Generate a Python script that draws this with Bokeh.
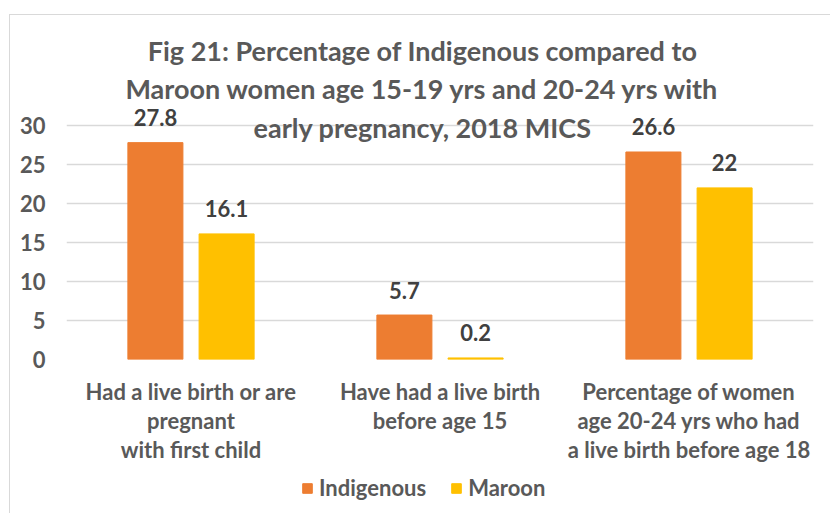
from bokeh.plotting import figure
from bokeh.layouts import column
from bokeh.models import (ColumnDataSource, FactorRange, Range1d, FixedTicker,
                          LabelSet, Label, Legend, LegendItem)
from bokeh.core.properties import value
from bokeh.transform import dodge
from bokeh.embed import file_html
from bokeh.resources import INLINE

categories = [
    "Had a live birth or are\npregnant\nwith first child",
    "Have had a live birth\nbefore age 15",
    "Percentage of women\nage 20-24 yrs who had\na live birth before age 18",
]
indigenous = [27.8, 5.7, 26.6]
maroon = [16.1, 0.2, 22]
y_ticks = [0, 5, 10, 15, 20, 25, 30]
title_lines = [
    "Fig 21: Percentage of Indigenous compared to",
    "Maroon women age 15-19 yrs and 20-24 yrs with",
    "early pregnancy, 2018 MICS",
]
series_names = ["Indigenous", "Maroon"]

FONT = "Lato"
TXT = "#595959"
ORANGE = "#ED7D31"
GOLD = "#FFC000"

src = ColumnDataSource(dict(
    cat=categories,
    ind=indigenous,
    mar=maroon,
    ind_lbl=[f"{v:g}" for v in indigenous],
    mar_lbl=[f"{v:g}" for v in maroon],
))

p = figure(x_range=FactorRange(*categories), y_range=Range1d(0, 43.2),
           width=820, height=455, output_backend="svg", toolbar_location=None,
           min_border_left=56, min_border_right=17, min_border_top=7,
           min_border_bottom=111)
p.outline_line_color = None
p.background_fill_color = "white"
p.border_fill_color = "white"

r1 = p.vbar(x=dodge("cat", -0.143, range=p.x_range), top="ind", width=0.221,
            source=src, color=ORANGE)
r2 = p.vbar(x=dodge("cat", 0.143, range=p.x_range), top="mar", width=0.221,
            source=src, color=GOLD)

for fld, off in (("ind", -0.143), ("mar", 0.143)):
    p.add_layout(LabelSet(x=dodge("cat", off, range=p.x_range), y=fld,
                          text=fld + "_lbl", source=src, text_align="center",
                          text_baseline="middle", y_offset=25,
                          text_font=value(FONT), text_font_style="bold",
                          text_font_size="22px", text_color="#404040"))

# axes
p.yaxis.ticker = FixedTicker(ticks=y_ticks)
p.yaxis.axis_line_color = None
p.yaxis.major_tick_line_color = None
p.yaxis.minor_tick_line_color = None
p.yaxis.major_tick_out = 0
p.yaxis.major_label_standoff = 21
p.yaxis.major_label_text_font = FONT
p.yaxis.major_label_text_font_style = "bold"
p.yaxis.major_label_text_font_size = "22px"
p.yaxis.major_label_text_color = TXT

p.xaxis.axis_line_color = None
p.xaxis.major_tick_line_color = None
p.xaxis.minor_tick_line_color = None
p.xaxis.major_label_standoff = 12
p.xaxis.major_label_text_font = FONT
p.xaxis.major_label_text_font_style = "bold"
p.xaxis.major_label_text_font_size = "22px"
p.xaxis.major_label_text_color = TXT
p.xaxis.major_label_text_line_height = 1.08

p.xgrid.grid_line_color = None
p.ygrid.ticker = FixedTicker(ticks=y_ticks)
p.ygrid.grid_line_color = "#d9d9d9"
p.ygrid.grid_line_width = 1.3

# title
for line, yy in zip(title_lines, [39.6, 34.7, 29.7]):
    p.add_layout(Label(x=1.43, y=yy, text=line, text_align="center",
                       text_baseline="middle", text_font=FONT,
                       text_font_style="bold", text_font_size="27px",
                       text_color=TXT))

# legend strip (separate small figure below the chart)
q = figure(width=820, height=43, output_backend="svg", toolbar_location=None,
           x_range=Range1d(0, 1), y_range=Range1d(0, 1),
           min_border=0, outline_line_color=None)
q.axis.visible = False
q.grid.visible = False
# legend-key renderers: kept outside the visible range, only their keys show
hidden = ColumnDataSource(dict(x=[-5], top=[-5]))
d1 = q.vbar(x="x", top="top", width=0.1, source=hidden, color=ORANGE)
d2 = q.vbar(x="x", top="top", width=0.1, source=hidden, color=GOLD)
legend = Legend(items=[LegendItem(label=series_names[0], renderers=[d1]),
                       LegendItem(label=series_names[1], renderers=[d2])],
                orientation="horizontal", location=(235, 12),
                border_line_color=None, background_fill_alpha=0,
                glyph_width=12, glyph_height=12, label_standoff=6,
                spacing=24, margin=0, padding=0,
                label_text_font=FONT, label_text_font_style="bold",
                label_text_font_size="22px", label_text_color=TXT)
q.add_layout(legend)

layout = column(p, q, spacing=0)
layout.styles = {"margin-left": "9px", "margin-top": "14px",
                 "border-left": "1px solid #d9d9d9",
                 "border-top": "1px solid #d9d9d9"}
open("out.html", "w").write(file_html(layout, INLINE))
